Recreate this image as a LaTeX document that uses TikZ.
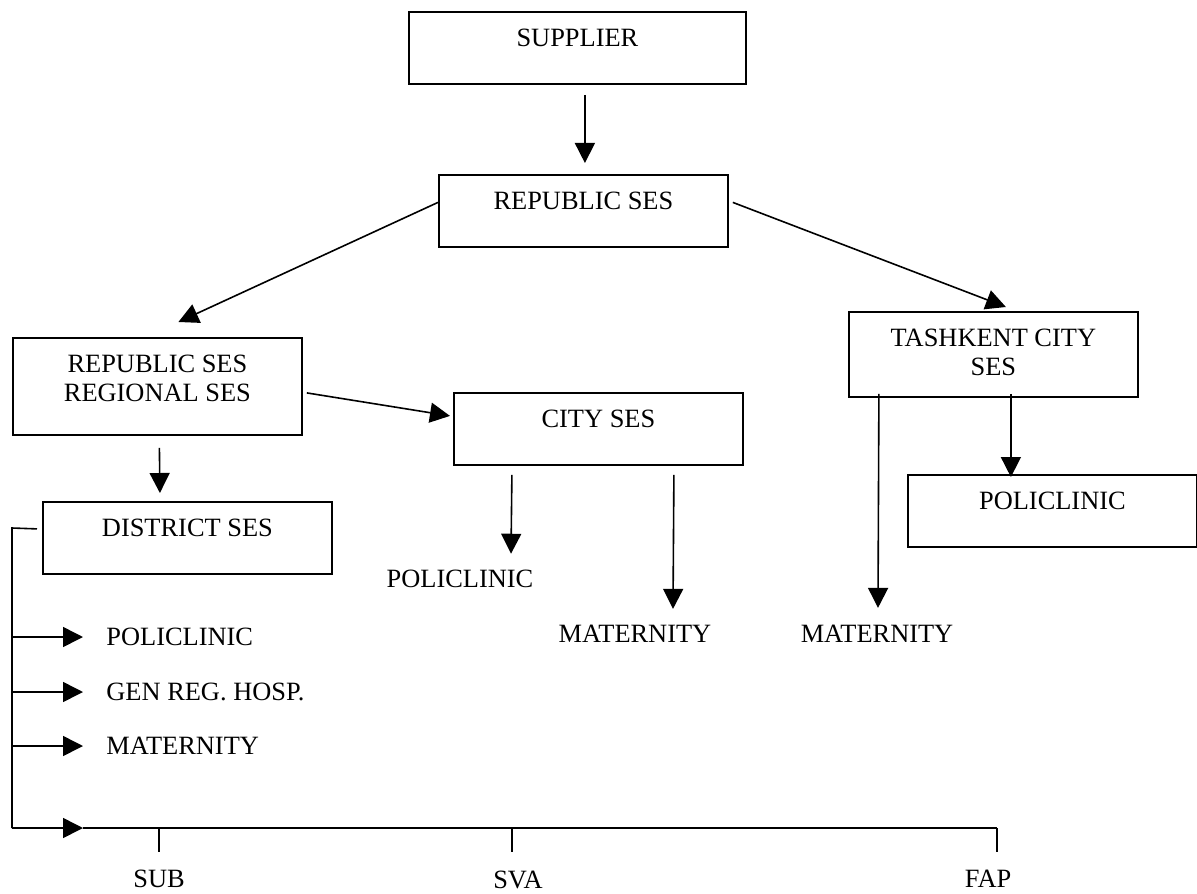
\documentclass[tikz,border=0pt]{standalone}
\usepackage{fontspec}
\setmainfont{Liberation Serif}
\usetikzlibrary{arrows.meta,calc}
\tikzset{
  txt/.style={inner sep=0pt, font=\fontsize{13.2pt}{14.5pt}\selectfont},
  box/.style={txt, draw, line width=0.9pt, anchor=north west, align=center,
    minimum width=144.5pt, text height=17.3pt, text depth=18.7pt},
  arr/.style={line width=0.8pt, -{Triangle[length=10pt,width=10pt]}},
  ln/.style={line width=0.8pt}
}
\begin{document}
\begin{tikzpicture}[x=0.5pt,y=-0.5pt]
\useasboundingbox (0,0) rectangle (1197,893);
% boxes
\node[box, minimum width=168.5pt] (supplier) at (408,11) {SUPPLIER};
\node[box] (republic) at (438,174) {REPUBLIC SES};
\node[box, text height=31.8pt, text depth=16.7pt] (regional) at (12,337) {REPUBLIC SES\\REGIONAL SES};
\node[box, text height=31.8pt, text depth=10.7pt] (tashkent) at (848,311) {TASHKENT CITY\\SES};
\node[box] (city) at (453,392) {CITY SES};
\node[box] (district) at (42,501) {DISTRICT SES};
\node[box] (tpol) at (907,474) {POLICLINIC};
% plain labels
\node[txt] (cpol) at (460,579) {POLICLINIC};
\node[txt] (cmat) at (635,634) {MATERNITY};
\node[txt] (tmat) at (877,634) {MATERNITY};
\node[txt, anchor=west] (dpol) at (106,637) {POLICLINIC};
\node[txt, anchor=west] (dgen) at (106,692) {GEN REG. HOSP.};
\node[txt, anchor=west] (dmat) at (106,746) {MATERNITY};
\node[txt] (sub) at (159,879) {SUB};
\node[txt] (sva) at (518,880) {SVA};
\node[txt] (fap) at (988,879) {FAP};
% arrows between boxes
\draw[arr] ($(supplier.south)+(7.5,10)$) -- ($(republic.north)+(1.5,-11)$);
\draw[arr] ($(republic.west)+(0,-8.5)$) -- ($(regional.north)+(21,-15)$);
\draw[arr] ($(republic.east)+(4,-8.5)$) -- ($(tashkent.north)+(12.5,-4)$);
\draw[arr] ($(regional.east)+(4,6.5)$) -- ($(city.west)+(-3,-13)$);
\draw[arr] ($(regional.south)+(2,12)$) -- ($(district.north)+(-27.5,-8)$);
\draw[arr] ($(city.south)+(-86.5,9)$) -- ($(cpol.north)+(51,-16)$);
\draw[arr] ($(city.south)+(75.5,9)$) -- ($(cmat.north)+(38,-16)$);
\draw[arr] ($(tashkent.south)+(-114.5,-4)$) -- ($(tmat.north)+(1,-17)$);
\draw[arr] ($(tashkent.south)+(17.5,-4)$) -- ($(tpol.north)+(-41.5,3)$);
% district bracket and bottom line
\coordinate (btop) at (12,528);
\coordinate (bbot) at (12,828);
\coordinate (axl) at (83,828);
\coordinate (axr) at (997,828);
\draw[ln] ($(district.west)+(-5,-9)$) -- (btop) -- (bbot);
\foreach \n in {dpol,dgen,dmat}
  \draw[arr] (btop |- \n.west) -- ($(\n.west)+(-23,0)$);
\draw[arr] (bbot) -- (axl);
\draw[ln] (axl) -- (axr);
\draw[ln] ($(sub.north)+(0,-18)$) -- ++(0,-24);
\draw[ln] ($(sva.north)+(-6,-19)$) -- ++(0,-24);
\draw[ln] ($(fap.north)+(9,-18)$) -- ++(0,-24);
\end{tikzpicture}
\end{document}
